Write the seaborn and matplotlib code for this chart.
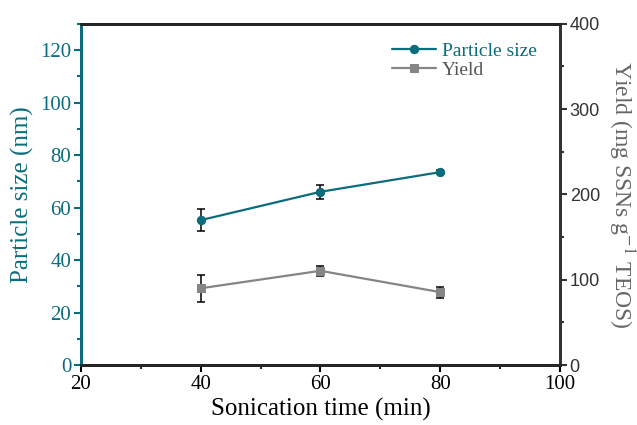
import matplotlib
matplotlib.use("Agg")
import matplotlib.pyplot as plt
import seaborn as sns
import pandas as pd
from matplotlib.ticker import MultipleLocator

sns.set_style("ticks")
plt.rcParams['font.family'] = ['Liberation Serif', 'DejaVu Serif']
plt.rcParams['mathtext.fontset'] = 'stix'

time_min = [40, 60, 80]
particle_size = [55.2, 66.0, 73.5]
particle_err = [4.2, 2.7, 0.8]
yield_vals = [90.0, 110.5, 85.5]
yield_err = [15.8, 5.9, 6.5]

teal = "#0b6c7c"
gray = "#858585"

df = pd.DataFrame({"time": time_min, "size": particle_size, "yield": yield_vals})

fig = plt.figure(figsize=(6.37, 4.25), dpi=100)
ax = fig.add_axes([0.127, 0.141, 0.752, 0.803])
ax2 = ax.twinx()

ax.errorbar(time_min, particle_size, yerr=particle_err, fmt="none", ecolor="black",
            elinewidth=1.1, capsize=3, capthick=1.1, zorder=3)
sns.lineplot(data=df, x="time", y="size", ax=ax, color=teal, marker="o", markersize=6,
             markeredgecolor=teal, linewidth=1.6, label="Particle size", legend=False, zorder=4)

ax2.errorbar(time_min, yield_vals, yerr=yield_err, fmt="none", ecolor="black",
             elinewidth=1.1, capsize=3, capthick=1.1, zorder=3)
sns.lineplot(data=df, x="time", y="yield", ax=ax2, color=gray, marker="s", markersize=5.5,
             markeredgecolor=gray, linewidth=1.6, label="Yield", legend=False, zorder=4)

ax.set_xlim(20, 100)
ax.set_ylim(0, 130)
ax2.set_ylim(0, 400)
ax.xaxis.set_major_locator(MultipleLocator(20))
ax.xaxis.set_minor_locator(MultipleLocator(10))
ax.yaxis.set_major_locator(MultipleLocator(20))
ax.yaxis.set_minor_locator(MultipleLocator(10))
ax2.yaxis.set_major_locator(MultipleLocator(100))
ax2.yaxis.set_minor_locator(MultipleLocator(50))

ax.set_xlabel("Sonication time (min)", fontsize=18, color="black", labelpad=3)
ax.set_ylabel("Particle size (nm)", fontsize=18, color=teal, labelpad=4)
ax2.set_ylabel("Yield (mg SSNs g$^{-1}$ TEOS)", fontsize=17, color="#666666",
               rotation=270, labelpad=26)

for a in (ax, ax2):
    for s in a.spines.values():
        s.set_linewidth(2)
        s.set_visible(True)
ax.spines["left"].set_color(teal)
ax2.spines["left"].set_color(teal)
ax2.spines["right"].set_color("#333333")
ax.spines["top"].set_color("black")
ax.spines["bottom"].set_color("black")

ax.tick_params(axis="x", which="major", labelsize=15, colors="black", length=5, width=1.5, direction="out", top=False, pad=2)
ax.tick_params(axis="x", which="minor", length=3, width=1.5, direction="out", top=False)
ax.tick_params(axis="y", which="major", labelsize=15, colors=teal, length=5, width=1.5, direction="out", pad=2)
ax.tick_params(axis="y", which="minor", length=3, width=1.5, direction="out", colors=teal)
ax2.tick_params(axis="y", which="major", length=5, width=1.5, direction="out", colors="#333333", pad=2)
ax2.tick_params(axis="y", which="minor", length=3, width=1.5, direction="out", colors="#333333")
for lbl in ax2.get_yticklabels():
    lbl.set_family(['Liberation Sans', 'DejaVu Sans'])
    lbl.set_fontsize(13)
    lbl.set_color("#333333")

h1, l1 = ax.get_legend_handles_labels()
h2, l2 = ax2.get_legend_handles_labels()
leg = ax2.legend(h1 + h2, l1 + l2, loc="upper left", bbox_to_anchor=(0.62, 0.985),
                 frameon=False, fontsize=14, handlelength=2.3, handletextpad=0.3,
                 labelspacing=0.05, borderaxespad=0.3)
leg.get_texts()[0].set_color(teal)
leg.get_texts()[1].set_color("#555555")

fig.savefig("out.png", dpi=100)
